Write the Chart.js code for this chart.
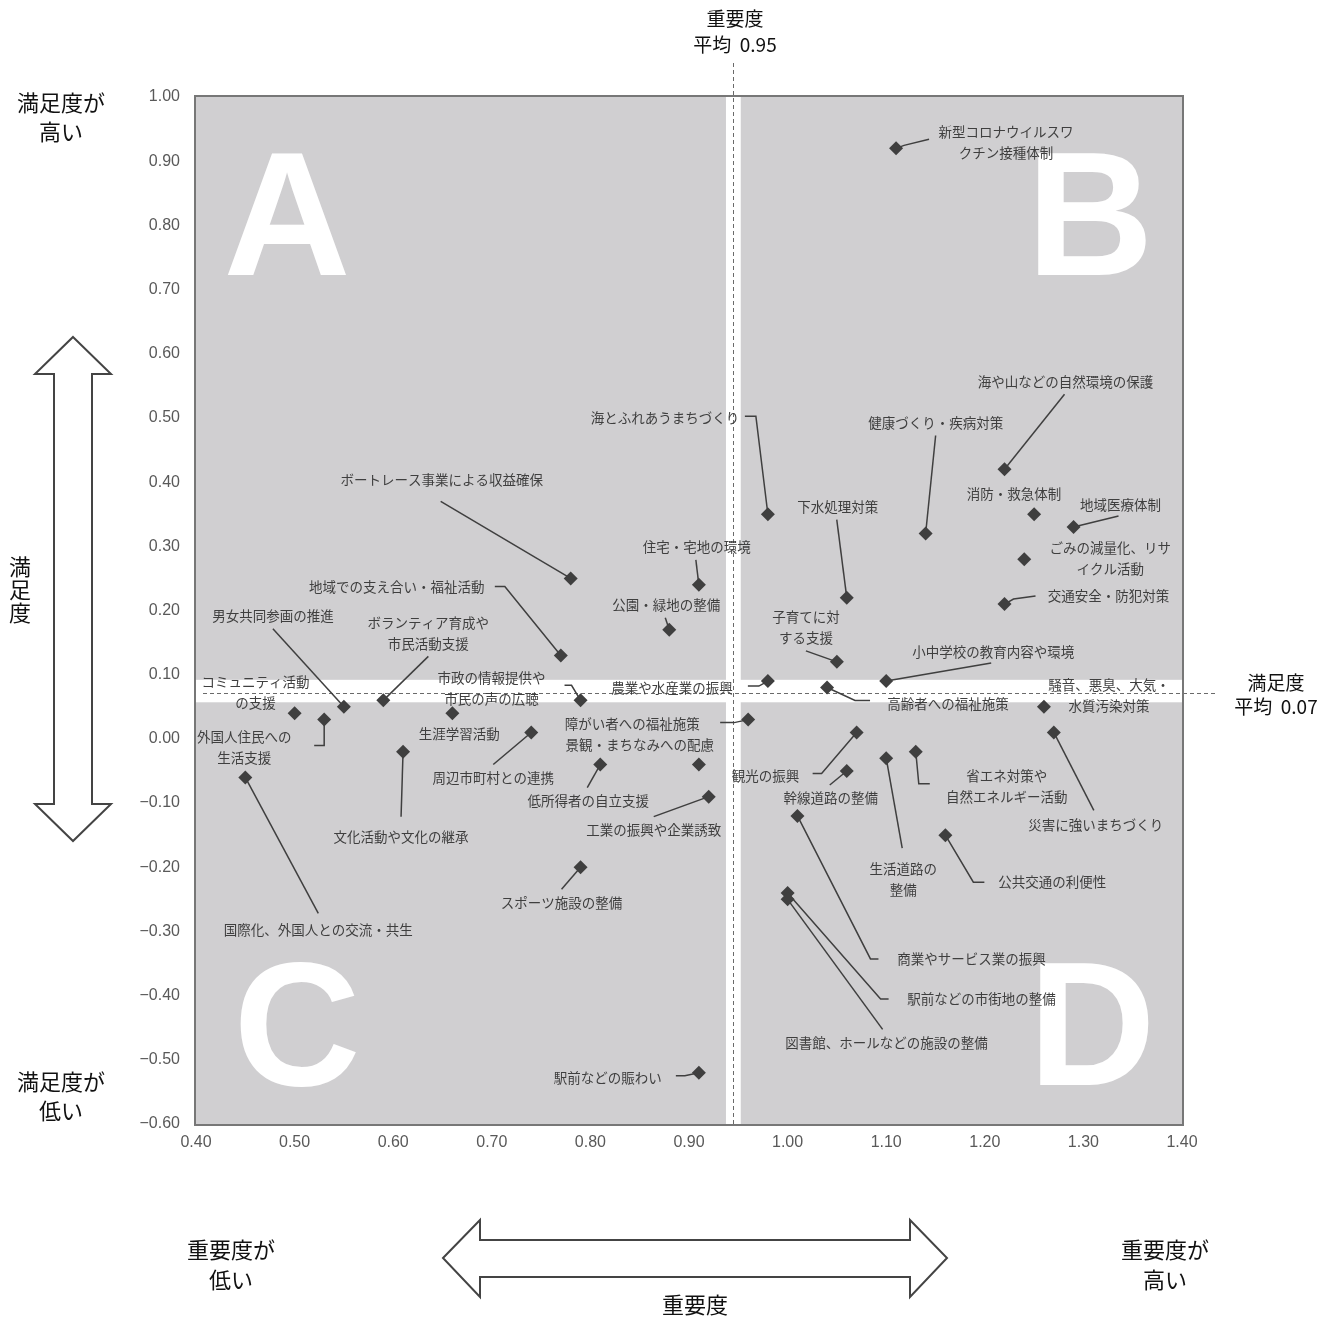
<!DOCTYPE html>
<html>
<head>
<meta charset="utf-8">
<script src="https://cdn.jsdelivr.net/npm/chart.js@4/dist/chart.umd.min.js"></script>
<style>
body { margin: 0; background: #fff; }
</style>
</head>
<body>
<canvas id="matrixChartId" width="1331" height="1318"></canvas>
<script>
// items (line breaks as in the picture)
var items = [
    '新型コロナウイルスワ\nクチン接種体制', '海や山などの自然環境の保護', '健康づくり・疾病対策', '消防・救急体制',
    '地域医療体制', 'ごみの減量化、リサ\nイクル活動', '交通安全・防犯対策', '下水処理対策',
    '海とふれあうまちづくり', '住宅・宅地の環境', '公園・緑地の整備', 'ボートレース事業による収益確保',
    '地域での支え合い・福祉活動', '子育てに対\nする支援', '小中学校の教育内容や環境', '高齢者への福祉施策',
    '農業や水産業の振興', '市政の情報提供や\n市民の声の広聴', 'ボランティア育成や\n市民活動支援', '男女共同参画の推進',
    'コミュニティ活動\nの支援', '外国人住民への\n生活支援', '生涯学習活動', '周辺市町村との連携',
    '騒音、悪臭、大気・\n水質汚染対策', '災害に強いまちづくり', '障がい者への福祉施策', '観光の振興',
    '省エネ対策や\n自然エネルギー活動', '生活道路の\n整備', '幹線道路の整備', '景観・まちなみへの配慮',
    '低所得者の自立支援', '文化活動や文化の継承', '国際化、外国人との交流・共生', '工業の振興や企業誘致',
    '商業やサービス業の振興', '公共交通の利便性', 'スポーツ施設の整備', '駅前などの市街地の整備',
    '図書館、ホールなどの施設の整備', '駅前などの賑わい'
];
// 重要度 (x)
var importance = [
    1.11, 1.22, 1.14, 1.25, 1.29, 1.24, 1.22, 1.06,
    0.98, 0.91, 0.88, 0.78, 0.77, 1.05, 1.10, 1.04,
    0.98, 0.79, 0.59, 0.55, 0.50, 0.53, 0.66, 0.74,
    1.26, 1.27, 0.96, 1.07, 1.13, 1.10, 1.06, 0.91,
    0.81, 0.61, 0.45, 0.92, 1.01, 1.16, 0.79, 1.00,
    1.00, 0.91
];
// 満足度 (y)
var satisfaction = [
    0.92, 0.42, 0.32, 0.35, 0.33, 0.28, 0.21, 0.22,
    0.35, 0.24, 0.17, 0.25, 0.13, 0.12, 0.09, 0.08,
    0.09, 0.06, 0.06, 0.05, 0.04, 0.03, 0.04, 0.01,
    0.05, 0.01, 0.03, 0.01, -0.02, -0.03, -0.05, -0.04,
    -0.04, -0.02, -0.06, -0.09, -0.12, -0.15, -0.20, -0.24,
    -0.25, -0.52
];
var xTickValues = [0.4, 0.5, 0.6, 0.7, 0.8, 0.9, 1.0, 1.1, 1.2, 1.3, 1.4];
var yTickValues = [-0.6, -0.5, -0.4, -0.3, -0.2, -0.1, 0, 0.1, 0.2, 0.3, 0.4, 0.5, 0.6, 0.7, 0.8, 0.9, 1.0];
var importanceMean = 0.946;
var satisfactionMean = 0.0714;
var importanceBand = [0.9375, 0.9525];
var satisfactionBand = [0.057, 0.092];

// label placement: text centre offset from the point (px), then leader line bends
var labelOffsets = [
    [110, -6], [61, -87], [10, -111], [-20, -20], [47, -22], [86, -1], [104, -8], [-9, -91],
    [-103, -96], [-2, -38], [-3, -25], [-129, -99], [-164, -69], [-31, -34], [107, -29], [121, 16],
    [-96, 7], [-89, -12], [45, -67], [-71, -91], [-39, -21], [-80, 28], [7, 21], [-38, 45],
    [65, -11], [42, 92], [-116, 4], [-91, 43], [91, 35], [17, 121], [-16, 27], [-59, -20],
    [-12, 36], [-2, 85], [73, 152], [-55, 33], [174, 143], [107, 47], [-19, 36], [194, 106],
    [99, 144], [-91, 5]
];
var leaders = [
    [[8, -3], [33, -9]], [[60, -75]], [[10, -98]], [], [[45, -11]], [], [[9, -5], [31, -8]], [[-10, -78]],
    [[-12, -98], [-23, -98]], [[-3, -25]], [[-4, -12]], [[-130, -77]], [[-56, -69], [-66, -69]], [[-31, -11]], [[105, -18]], [[28, 13], [43, 13]],
    [[-9, 5], [-20, 5]], [[-9, -15], [-16, -15]], [[45, -44]], [[-71, -78]], [], [[0, 26], [-10, 26]], [], [[-38, 32]],
    [], [[40, 78]], [[-14, 3], [-28, 3]], [[-35, 41], [-44, 41]], [[3, 32], [14, 32]], [[16, 90]], [[-17, 14]], [],
    [[-13, 23]], [[-2, 65]], [[73, 136]], [[-55, 20]], [[73, 143], [81, 143]], [[28, 47], [39, 47]], [[-19, 22]], [[93, 106], [101, 106]],
    [[95, 130]], [[-14, 3], [-23, 3]]
];

var jpFont = '"Noto Sans CJK JP", "Noto Sans", sans-serif';
var markColor = '#3f3f3f';

function fmt(v) {
    var s = (Math.round(v * 100) / 100).toFixed(2);
    return s.replace('-', '\u2212');
}

var points = [];
for (var i = 0; i < items.length; i++) {
    points.push({ x: importance[i], y: satisfaction[i] });
}

var quadrantPlugin = {
    id: 'quadrant',
    beforeDatasetsDraw: function(chart) {
        var ctx = chart.ctx, a = chart.chartArea;
        var xs = chart.scales.x, ys = chart.scales.y;
        ctx.save();
        ctx.fillStyle = '#d0cfd1';
        ctx.fillRect(a.left, a.top, a.right - a.left, a.bottom - a.top);

        // big quadrant letters
        ctx.fillStyle = '#fff';
        ctx.font = 'bold 176px "Liberation Sans", Arial, sans-serif';
        ctx.textAlign = 'center';
        ctx.textBaseline = 'alphabetic';
        ctx.fillText('A', a.left + 91, a.top + 178);
        ctx.fillText('B', a.right - 92, a.top + 178);
        ctx.fillText('C', a.left + 101, a.bottom - 39);
        ctx.fillText('D', a.right - 90, a.bottom - 39);

        // white cross bands
        var bx0 = xs.getPixelForValue(importanceBand[0]);
        var bx1 = xs.getPixelForValue(importanceBand[1]);
        ctx.fillRect(bx0, a.top, bx1 - bx0, a.bottom - a.top);
        var by0 = ys.getPixelForValue(satisfactionBand[1]);
        var by1 = ys.getPixelForValue(satisfactionBand[0]);
        ctx.fillRect(a.left, by0, a.right - a.left, by1 - by0);

        // mean lines
        ctx.strokeStyle = '#6a6a6a';
        ctx.lineWidth = 1;
        ctx.setLineDash([4, 3]);
        var mx = Math.round(xs.getPixelForValue(importanceMean)) - 0.5;
        ctx.beginPath();
        ctx.moveTo(mx, 63);
        ctx.lineTo(mx, a.bottom);
        ctx.stroke();
        var my = Math.round(ys.getPixelForValue(satisfactionMean)) + 0.5;
        ctx.beginPath();
        ctx.moveTo(a.left + 7, my);
        ctx.lineTo(a.right + 35, my);
        ctx.stroke();
        ctx.setLineDash([]);

        // border
        ctx.strokeStyle = '#777';
        ctx.lineWidth = 2;
        ctx.strokeRect(a.left - 1, a.top - 1, a.right - a.left + 2, a.bottom - a.top + 2);

        // leader lines and labels
        var meta = chart.getDatasetMeta(0);
        ctx.strokeStyle = markColor;
        ctx.lineWidth = 1.5;
        ctx.fillStyle = markColor;
        ctx.font = '13.5px ' + jpFont;
        ctx.textBaseline = 'middle';
        for (var i = 0; i < meta.data.length; i++) {
            var p = meta.data[i];
            var legs = leaders[i];
            if (legs.length) {
                ctx.beginPath();
                ctx.moveTo(p.x, p.y);
                for (var k = 0; k < legs.length; k++) {
                    ctx.lineTo(p.x + legs[k][0], p.y + legs[k][1]);
                }
                ctx.stroke();
            }
            var lines = items[i].split('\n');
            var cx = p.x + labelOffsets[i][0];
            var cy = p.y + labelOffsets[i][1] - (lines.length - 1) * 10.5;
            for (var j = 0; j < lines.length; j++) {
                ctx.fillText(lines[j], cx, cy + j * 21);
            }
        }
        ctx.restore();
    },
    afterDraw: function(chart) {
        var ctx = chart.ctx;
        ctx.save();
        ctx.fillStyle = '#111';
        ctx.textAlign = 'center';
        ctx.textBaseline = 'middle';
        ctx.font = '22px ' + jpFont;
        ctx.fillText('満足度が', 61, 103);
        ctx.fillText('高い', 61, 132);
        ctx.fillText('満足度が', 61, 1082);
        ctx.fillText('低い', 61, 1111);
        ctx.fillText('満', 20, 567);
        ctx.fillText('足', 20, 590);
        ctx.fillText('度', 20, 613);
        ctx.fillText('重要度が', 231, 1250);
        ctx.fillText('低い', 231, 1280);
        ctx.fillText('重要度が', 1165, 1250);
        ctx.fillText('高い', 1165, 1280);
        ctx.fillText('重要度', 695, 1305);
        ctx.font = '19px ' + jpFont;
        ctx.fillText('重要度', 735, 19);
        ctx.fillText('平均  ' + importanceMean.toFixed(2), 735, 45);
        ctx.fillText('満足度', 1276, 683);
        ctx.fillText('平均  ' + satisfactionMean.toFixed(2), 1276, 707);

        // double arrows
        ctx.strokeStyle = '#444';
        ctx.lineWidth = 2;
        ctx.fillStyle = '#fff';
        ctx.beginPath();
        ctx.moveTo(73, 337);
        ctx.lineTo(111, 374);
        ctx.lineTo(92, 374);
        ctx.lineTo(92, 804);
        ctx.lineTo(111, 804);
        ctx.lineTo(73, 841);
        ctx.lineTo(35, 804);
        ctx.lineTo(54, 804);
        ctx.lineTo(54, 374);
        ctx.lineTo(35, 374);
        ctx.closePath();
        ctx.fill();
        ctx.stroke();

        ctx.beginPath();
        ctx.moveTo(443, 1258);
        ctx.lineTo(480, 1220);
        ctx.lineTo(480, 1240);
        ctx.lineTo(910, 1240);
        ctx.lineTo(910, 1220);
        ctx.lineTo(947, 1258);
        ctx.lineTo(910, 1297);
        ctx.lineTo(910, 1277);
        ctx.lineTo(480, 1277);
        ctx.lineTo(480, 1297);
        ctx.closePath();
        ctx.fill();
        ctx.stroke();
        ctx.restore();
    }
};

function init() {
    var chartEl = document.getElementById('matrixChartId').getContext('2d');
    new Chart(chartEl, {
        type: 'scatter',
        data: {
            datasets: [{
                data: points,
                pointStyle: 'rectRot',
                pointRadius: 7,
                pointHoverRadius: 7,
                backgroundColor: markColor,
                borderColor: markColor,
                borderWidth: 0
            }]
        },
        options: {
            responsive: false,
            animation: false,
            events: [],
            layout: { padding: { left: 0, top: 97, right: 149, bottom: 154 } },
            plugins: { legend: { display: false }, tooltip: { enabled: false } },
            scales: {
                x: {
                    type: 'linear',
                    min: 0.4,
                    max: 1.4,
                    afterBuildTicks: function(scale) {
                        scale.ticks = xTickValues.map(function(v) { return { value: v }; });
                    },
                    afterFit: function(scale) { scale.height = 40; },
                    grid: { display: false, drawTicks: false },
                    border: { display: false },
                    ticks: {
                        padding: 9,
                        color: '#595959',
                        font: { family: '"Liberation Sans", Arial, sans-serif', size: 16 },
                        callback: function(v) { return fmt(v); }
                    }
                },
                y: {
                    type: 'linear',
                    min: -0.6,
                    max: 1.0,
                    afterBuildTicks: function(scale) {
                        scale.ticks = yTickValues.map(function(v) { return { value: v }; });
                    },
                    afterFit: function(scale) { scale.width = 196; },
                    grid: { display: false, drawTicks: false },
                    border: { display: false },
                    ticks: {
                        padding: 16,
                        color: '#595959',
                        font: { family: '"Liberation Sans", Arial, sans-serif', size: 16 },
                        callback: function(v) { return fmt(v); }
                    }
                }
            }
        },
        plugins: [quadrantPlugin]
    });
}

init();
</script>
</body>
</html>
